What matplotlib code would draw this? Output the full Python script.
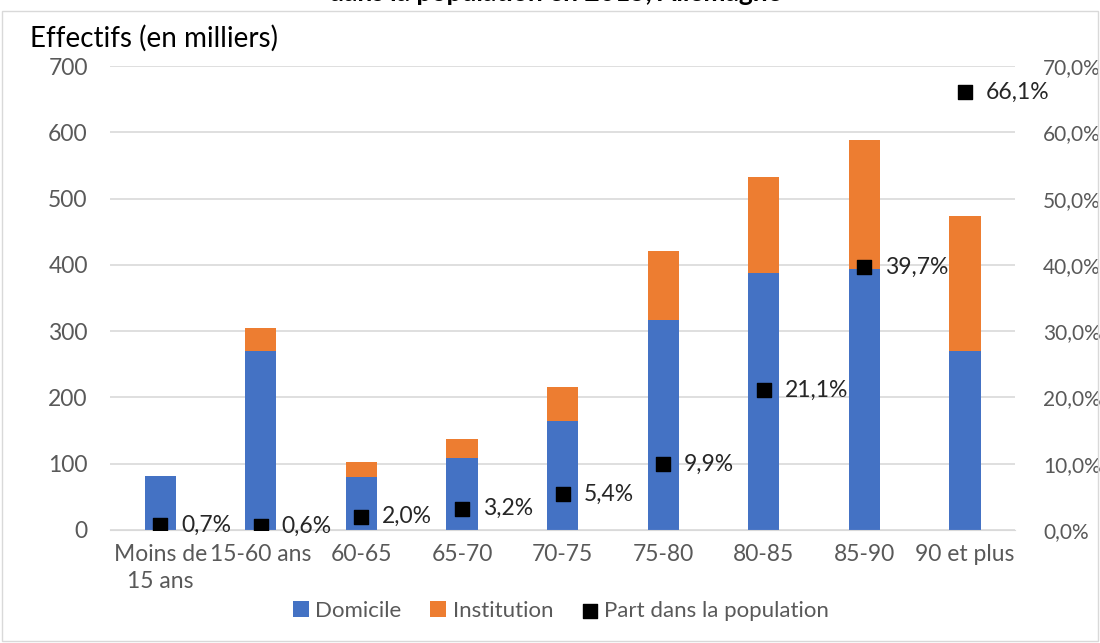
import matplotlib.pyplot as plt
import numpy as np
from matplotlib.patches import Rectangle
from matplotlib.ticker import FuncFormatter

plt.rcParams['font.family'] = ['Lato', 'DejaVu Sans']

categories = ["Moins de\n15 ans", "15-60 ans", "60-65", "65-70", "70-75",
              "75-80", "80-85", "85-90", "90 et plus"]
domicile = [81, 270, 80, 108, 165, 317, 388, 394, 270]
institution = [0, 35, 23, 29, 50, 104, 145, 195, 204]
part = [0.7, 0.6, 2.0, 3.2, 5.4, 9.9, 21.1, 39.7, 66.1]

blue = '#4472c4'
orange = '#ed7d31'
grey = '#595959'

fig = plt.figure(figsize=(11, 6.43), dpi=100)
ax = fig.add_axes([0.1, 0.176, 0.823, 0.721])
ax2 = ax.twinx()

x = np.arange(len(categories))
ax.bar(x, domicile, width=0.31, color=blue, label='Domicile', zorder=2)
ax.bar(x, institution, width=0.31, bottom=domicile, color=orange,
       label='Institution', zorder=2)

ax2.scatter(x, part, marker='s', s=110, color='black', zorder=3,
            label='Part dans la population')
for xi, p in zip(x, part):
    ax2.annotate(("%.1f%%" % p).replace('.', ','), (xi, p), xytext=(15, 0),
                 textcoords='offset points', va='center', ha='left',
                 fontsize=16.5, color='#262626')

ax.set_ylim(0, 700)
ax.set_yticks(range(0, 701, 100))
ax2.set_ylim(0, 70)
ax2.set_yticks(range(0, 71, 10))
ax2.yaxis.set_major_formatter(FuncFormatter(lambda v, _: ("%.1f%%" % v).replace('.', ',')))
ax.set_xlim(-0.5, len(categories) - 0.5)
ax.set_xticks(x)
ax.set_xticklabels(categories, linespacing=1.35)

for a in (ax, ax2):
    for s in a.spines.values():
        s.set_visible(False)
    a.tick_params(length=0, labelsize=16.5, labelcolor=grey, pad=16)
ax.tick_params(axis='x', pad=10)
ax2.tick_params(axis='y', labelsize=15, pad=20)
ax.spines['bottom'].set_visible(True)
ax.spines['bottom'].set_color('#d9d9d9')
ax.grid(axis='y', color='#d9d9d9', linewidth=1.2, zorder=0)
ax.set_axisbelow(True)

fig.text(0.027, 0.928, "Effectifs (en milliers)", fontsize=20, color='black')
fig.text(0.505, 0.992, "dans la population en 2015, Allemagne", fontsize=19,
         fontweight='bold', ha='center', va='bottom')

h1, l1 = ax.get_legend_handles_labels()
h2, l2 = ax2.get_legend_handles_labels()
fig.legend(h1 + h2, l1 + l2, loc='center', bbox_to_anchor=(0.51, 0.05), ncol=3,
           frameon=False, fontsize=16, labelcolor=grey, handlelength=0.7,
           handleheight=0.7, handletextpad=0.3, columnspacing=1.3, markerscale=0.9)

fig.patches.append(Rectangle((0.002, 0.003), 0.996, 0.98, transform=fig.transFigure,
                             fill=False, edgecolor='#d9d9d9', linewidth=1))

fig.savefig('out.png', dpi=100)
